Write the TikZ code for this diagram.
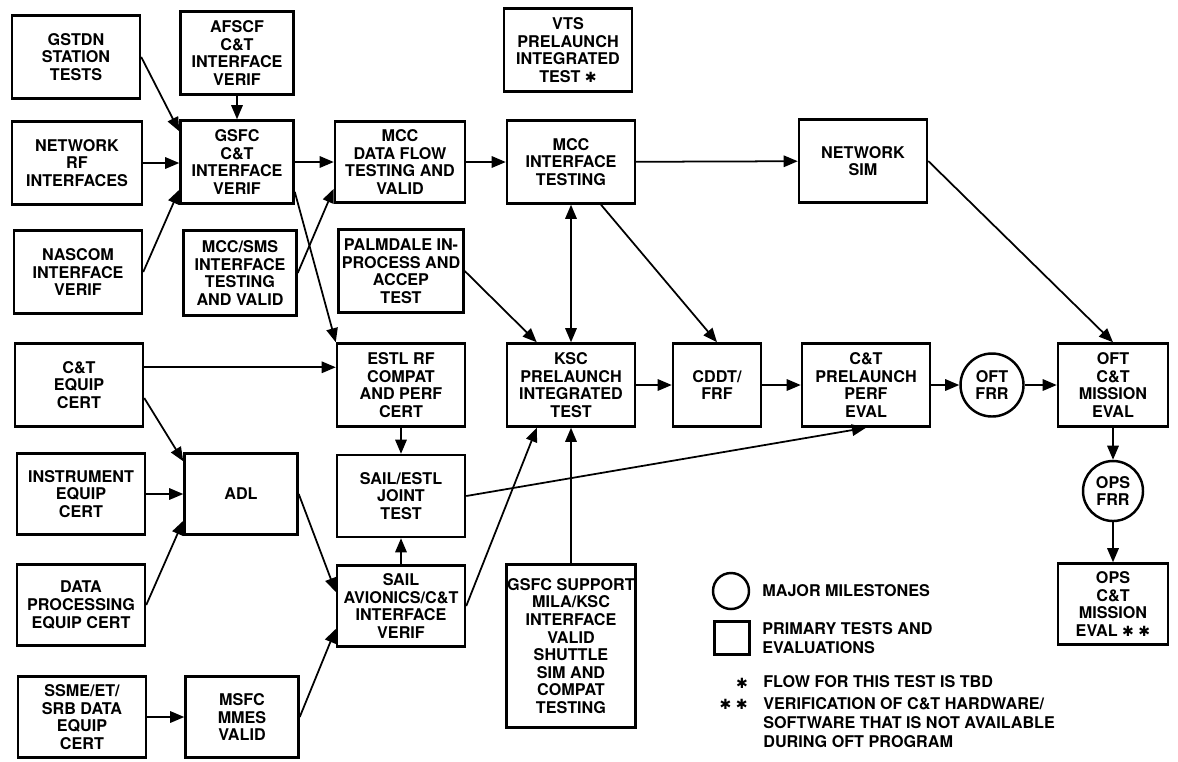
\documentclass[tikz,border=0pt]{standalone}
\usepackage{fontspec}
\setmainfont{TeX Gyre Heros}
\newfontfamily\starfont{DejaVu Sans}
\usetikzlibrary{arrows.meta, calc}
\newcommand{\tbd}{{\starfont\fontsize{8}{8}\selectfont ✱}}

\begin{document}
\begin{tikzpicture}[x=0.2mm, y=-0.2mm,
  box/.style={draw, line width=1.4pt, align=center, inner sep=0pt,
    minimum width=25.6mm, minimum height=16.6mm,
    font=\bfseries\fontsize{9.2}{10}\selectfont},
  nbox/.style={box, minimum width=22.6mm},
  mile/.style={draw, circle, line width=1.4pt, align=center, inner sep=0pt,
    minimum size=12.6mm, font=\bfseries\fontsize{9.2}{10}\selectfont},
  flow/.style={line width=1pt, -{Triangle[length=8pt, width=6.5pt]}},
  flowboth/.style={line width=1pt, {Triangle[length=8pt, width=6.5pt]}-{Triangle[length=8pt, width=6.5pt]}},
  legtext/.style={align=left, inner sep=0pt, font=\bfseries\fontsize{9.2}{10.8}\selectfont}]
  \useasboundingbox (0,0) rectangle (1178,761);

  % left column
  \node[box] (gstdn) at (76,57) {GSTDN\\STATION\\TESTS};
  \node[box, minimum width=26mm] (netrf) at (77,163) {NETWORK\\RF\\INTERFACES};
  \node[box] (nascom) at (78,272) {NASCOM\\INTERFACE\\VERIF};
  \node[box] (cteq) at (79,385) {C\&T\\EQUIP\\CERT};
  \node[box, minimum height=16.2mm] (instr) at (81,494) {INSTRUMENT\\EQUIP\\CERT};
  \node[box, minimum height=16.2mm] (dataproc) at (81,605) {DATA\\PROCESSING\\EQUIP CERT};
  \node[box, minimum height=16.2mm] (ssme) at (82,717) {SSME/ET/\\SRB DATA\\EQUIP\\CERT};

  % second column
  \node[nbox] (afscf) at (237,53) {AFSCF\\C\&T\\INTERFACE\\VERIF};
  \node[nbox] (gsfc) at (237,162) {GSFC\\C\&T\\INTERFACE\\VERIF};
  \node[nbox, minimum height=17mm] (mccsms) at (240,273) {MCC/SMS\\INTERFACE\\TESTING\\AND VALID};
  \node[nbox, minimum height=16.2mm] (adl) at (241,494) {ADL};
  \node[nbox, minimum height=16.2mm] (msfc) at (242,717) {MSFC\\MMES\\VALID};

  % third column
  \node[box, minimum width=26mm, minimum height=16.2mm] (mccdf) at (400,162) {MCC\\DATA FLOW\\TESTING AND\\VALID};
  \node[box, minimum width=25mm] (palm) at (401,271) {PALMDALE IN-\\PROCESS AND\\ACCEP\\TEST};
  \node[box] (estl) at (401,385) {ESTL RF\\COMPAT\\AND PERF\\CERT};
  \node[box, minimum height=16.4mm] (sailestl) at (401,496) {SAIL/ESTL\\JOINT\\TEST};
  \node[box, minimum height=16.2mm] (sailav) at (401,606) {SAIL\\AVIONICS/C\&T\\INTERFACE\\VERIF};

  % fourth column
  \node[box] (vts) at (568,50) {VTS\\PRELAUNCH\\INTEGRATED\\TEST \tbd};
  \node[box] (mccit) at (571,162) {MCC\\INTERFACE\\TESTING};
  \node[box] (ksc) at (571,385) {KSC\\PRELAUNCH\\INTEGRATED\\TEST};
  \node[box, minimum width=25.8mm, minimum height=32.6mm] (gsfcsup) at (571,646)
    {GSFC SUPPORT\\MILA/KSC\\INTERFACE\\VALID\\SHUTTLE\\SIM AND\\COMPAT\\TESTING};

  % right part
  \node[box, minimum width=17.6mm] (cddt) at (717,385) {CDDT/\\FRF};
  \node[box] (netsim) at (863,161) {NETWORK\\SIM};
  \node[box] (perf) at (866,385) {C\&T\\PRELAUNCH\\PERF\\EVAL};
  \node[mile] (oftfrr) at (992,385) {OFT\\FRR};
  \node[box, minimum width=22mm] (oftme) at (1113,385) {OFT\\C\&T\\MISSION\\EVAL};
  \node[mile, minimum size=12mm] (opsfrr) at (1113,491) {OPS\\FRR};
  \node[box, minimum width=22mm, minimum height=16.2mm] (opsme) at (1113,604) {OPS\\C\&T\\MISSION\\EVAL \tbd\ \tbd};

  % connectors
  \draw[flow] (gstdn.east) -- ($(gsfc.north west)+(0,12)$);
  \draw[flow] (afscf) -- (gsfc);
  \draw[flow] (netrf.east) -- (netrf.east -| gsfc.west);
  \draw[flow] (nascom.east) -- ($(gsfc.south west)+(0,-15)$);
  \draw[flow] (gsfc) -- (mccdf);
  \draw[flow] (mccsms.east) -- ($(mccdf.south west)+(0,-15)$);
  \draw[flow] ($(gsfc.south east)+(0,-13)$) -- (estl.north west);
  \draw[flow] (mccdf) -- (mccit);
  \draw[flow] (mccit) -- (netsim);
  \draw[flow] (netsim.east) -- (oftme.north);
  \draw[flowboth] (mccit) -- (ksc);
  \draw[flow] ($(mccit.south)+(30,0)$) -- (cddt.north);
  \draw[flow] (palm.east) -- ($(ksc.north west)+(31,0)$);
  \draw[flow] ($(cteq.north east)+(0,25)$) -- ($(estl.north west)+(0,25)$);
  \draw[flow] ($(cteq.east)+(0,13)$) -- ($(adl.north west)+(0,9)$);
  \draw[flow] (instr) -- (adl);
  \draw[flow] (dataproc.east) -- ($(adl.south west)+(0,-15)$);
  \draw[flow] (adl.east) -- ($(sailav.west)+(0,-14)$);
  \draw[flow] (estl) -- (sailestl);
  \draw[flow] (sailav) -- (sailestl);
  \draw[flow] (sailav.east) -- ($(ksc.south west)+(31,0)$);
  \draw[flow] (gsfcsup) -- (ksc);
  \draw[flow] (sailestl.east) -- (perf.south);
  \draw[flow] (ksc) -- (cddt);
  \draw[flow] (cddt) -- (perf);
  \draw[flow] (perf) -- (oftfrr);
  \draw[flow] (oftfrr) -- (oftme);
  \draw[flow] (oftme) -- (opsfrr);
  \draw[flow] (opsfrr) -- (opsme);
  \draw[flow] (ssme) -- (msfc);
  \draw[flow] (msfc.east) -- ($(sailav.south west)+(0,-19)$);

  % legend
  \node[mile, minimum size=7.2mm] (lgcirc) at (731,591) {};
  \node[draw, line width=1.4pt, inner sep=0pt, minimum width=7mm, minimum height=6.6mm] (lgsq) at (732,638) {};
  \node[legtext, anchor=west] (lgmile) at (762,591) {MAJOR MILESTONES};
  \node[legtext, anchor=north west] (lgprim) at (762,622) {PRIMARY TESTS AND\\EVALUATIONS};
  \node[legtext] (lgstar) at (742,683) {\tbd};
  \node[legtext, anchor=west] (lgflow) at (763,682) {FLOW FOR THIS TEST IS TBD};
  \node[legtext, anchor=east] (lgstars) at (748,704) {\tbd\ \tbd};
  \node[legtext, anchor=north west] (lgverif) at (763,697)
    {VERIFICATION OF C\&T HARDWARE/\\SOFTWARE THAT IS NOT AVAILABLE\\DURING OFT PROGRAM};
\end{tikzpicture}
\end{document}
